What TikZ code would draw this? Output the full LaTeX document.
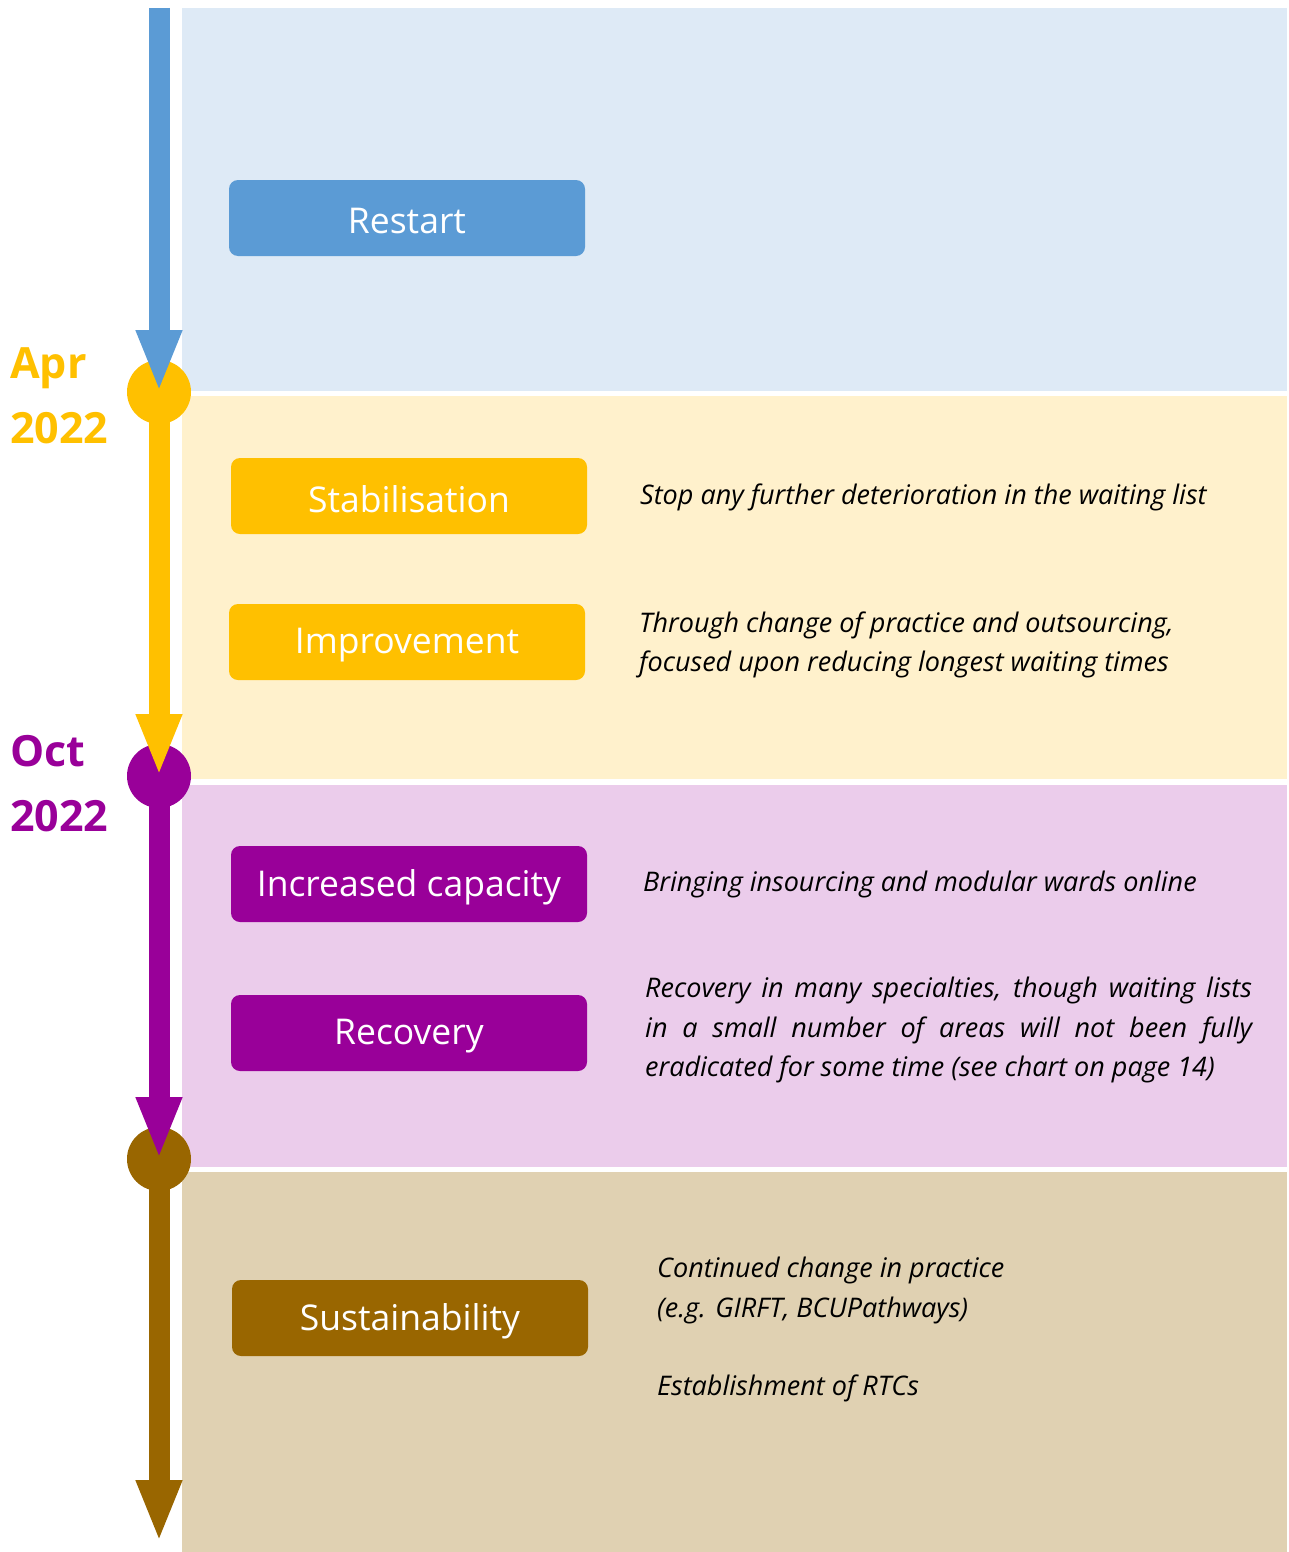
\documentclass[tikz,border=0pt]{standalone}
\usepackage{fontspec}
\setmainfont{Open Sans}
\usetikzlibrary{arrows.meta}
\definecolor{cblue}{RGB}{91,155,213}
\definecolor{cyel}{RGB}{255,192,0}
\definecolor{cpur}{RGB}{153,0,153}
\definecolor{cbro}{RGB}{153,102,0}
\definecolor{pblue}{RGB}{222,234,246}
\definecolor{pyel}{RGB}{255,241,204}
\definecolor{ppur}{RGB}{235,204,235}
\definecolor{pbro}{RGB}{224,209,178}
\tikzset{
  panel/.style={fill=#1, draw=none},
  phase/.style={fill=#1, draw=none, rounded corners=9pt, minimum width=356pt, minimum height=76pt, inner sep=0pt},
  phasetext/.style={text=white, font=\fontsize{35.5}{40}\selectfont, inner sep=0pt},
  dot/.style={circle, fill=#1, draw=none, minimum size=64pt, inner sep=0pt},
  shaft/.style={draw=#1, line width=21pt, -{Triangle[width=42pt,length=62pt]}},
  datelbl/.style={text=#1, font=\fontsize{43}{65}\selectfont\bfseries, align=left, anchor=north west, inner sep=0pt},
  desc/.style={font=\fontsize{27}{39.5}\selectfont\itshape, align=left, anchor=west, inner sep=0pt},
}
\begin{document}
\begin{tikzpicture}[x=1pt,y=-1pt]
\useasboundingbox (0,0) rectangle (1289,1552);
\fill[white] (0,0) rectangle (1289,1552);
% panels
\fill[panel=pblue] (182,8) rectangle (1287,391);
\fill[panel=pyel] (182,396) rectangle (1287,779);
\fill[panel=ppur] (182,785) rectangle (1287,1167);
\fill[panel=pbro] (182,1172) rectangle (1287,1552);
% timeline
\coordinate (top) at (159,8);
\coordinate (bottom) at (159,1542);
\node[dot=cyel] (c1) at (159,392) {};
\node[dot=cpur] (c2) at (159,776) {};
\node[dot=cbro] (c3) at (159,1159) {};
\draw[shaft=cblue] (top) -- (c1.center);
\draw[shaft=cyel] (c1.center) -- (c2.center);
\draw[shaft=cpur] (c2.center) -- (c3.center);
\draw[shaft=cbro] (c3.center) -- (bottom);
% dates
\node[datelbl=cyel] (d1) at (10,347) {Apr\\2022};
\node[datelbl=cpur] (d2) at (10,735) {Oct\\2022};
% phases
\node[phase=cblue] (restart) at (407,218) {};
\node[phase=cyel] (stab) at (409,496) {};
\node[phase=cyel] (impr) at (407,642) {};
\node[phase=cpur] (incr) at (409,884) {};
\node[phase=cpur] (reco) at (409,1033) {};
\node[phase=cbro] (sust) at (410,1318) {};
\node[phasetext] at ([yshift=-3pt]restart.center) {Restart};
\node[phasetext] at ([yshift=-3pt]stab.center) {Stabilisation};
\node[phasetext] at ([yshift=-3pt]impr.center) {Improvement};
\node[phasetext] at ([yshift=-3pt]incr.center) {Increased capacity};
\node[phasetext] at ([yshift=-3pt]reco.center) {Recovery};
\node[phasetext] at ([yshift=-3pt]sust.center) {Sustainability};
% descriptions
\node[desc] (t1) at (640,497) {Stop any further deterioration in the waiting list};
\node[desc] (t2) at (639,645) {Through change of practice and outsourcing,\\focused upon reducing longest waiting times};
\node[desc] (t3) at (643,884) {Bringing insourcing and modular wards online};
\node[desc] (t4) at (645,1030) {\makebox[607pt][s]{Recovery in many specialties, though waiting lists}\\\makebox[607pt][s]{in a small number of areas will not been fully}\\eradicated for some time (see chart on page 14)};
\node[desc] (t5) at (657,1290.5) {Continued change in practice\\(e.g. GIRFT, BCUPathways)};
\node[desc] (t6) at (657,1388) {Establishment of RTCs};
\end{tikzpicture}
\end{document}
